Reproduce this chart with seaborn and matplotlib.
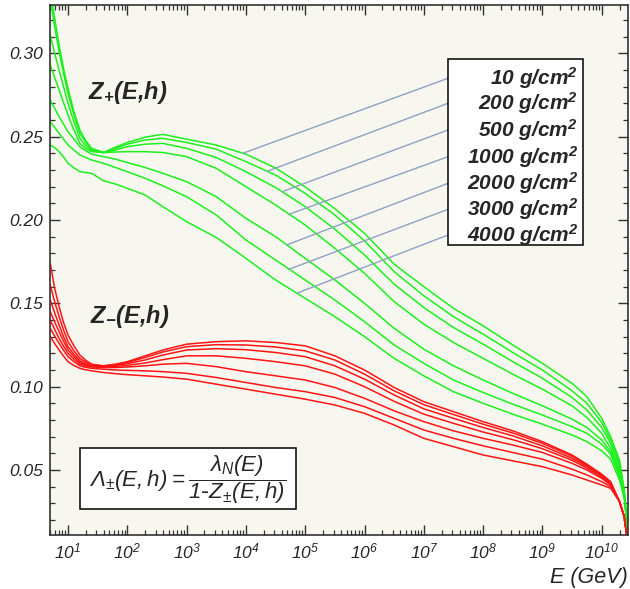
import numpy as np
import pandas as pd
import matplotlib
matplotlib.use("Agg")
import matplotlib.pyplot as plt
import matplotlib.ticker as mticker
from matplotlib.patches import Rectangle
import seaborn as sns

# ---------------- data ----------------
log_energy = [0.7, 0.775, 0.85, 0.925, 1.0, 1.1, 1.2, 1.3, 1.4, 1.6, 1.8, 2.0, 2.3, 2.6, 3.0, 3.5, 4.0, 4.5, 5.0,
              5.5, 6.0, 6.5, 7.0, 7.5, 8.0, 8.5, 9.0, 9.5, 9.75, 10.0, 10.15, 10.3, 10.38, 10.44]

depths = [10, 200, 500, 1000, 2000, 3000, 4000]

zp_10 = [0.340, 0.321, 0.305, 0.291, 0.279, 0.265, 0.254, 0.2475, 0.243, 0.2405, 0.2437, 0.2465, 0.2497, 0.2514, 0.2485, 0.2450, 0.2395, 0.2312, 0.2198,
         0.2068, 0.1920, 0.1735, 0.1600, 0.1470, 0.1365, 0.1250, 0.1140, 0.1020, 0.0940, 0.0810, 0.0700, 0.0560, 0.0380, 0.0130]
zp_200 = [0.333, 0.316, 0.301, 0.288, 0.276, 0.263, 0.252, 0.2465, 0.242, 0.2405, 0.2430, 0.2455, 0.2480, 0.2490, 0.2465, 0.2425, 0.2350, 0.2270, 0.2160,
          0.2030, 0.1875, 0.1690, 0.1545, 0.1420, 0.1315, 0.1205, 0.1100, 0.0975, 0.0900, 0.0785, 0.0680, 0.0540, 0.0370, 0.0130]
zp_500 = [0.311, 0.300, 0.290, 0.280, 0.270, 0.259, 0.249, 0.2445, 0.2415, 0.2405, 0.2420, 0.2440, 0.2455, 0.2460, 0.2430, 0.2375, 0.2290, 0.2195, 0.2080,
          0.1945, 0.1790, 0.1615, 0.1475, 0.1355, 0.1255, 0.1150, 0.1050, 0.0935, 0.0860, 0.0755, 0.0660, 0.0520, 0.0360, 0.0130]
zp_1000 = [0.293, 0.2855, 0.278, 0.2705, 0.263, 0.254, 0.246, 0.2428, 0.2410, 0.2405, 0.2408, 0.2410, 0.2410, 0.2405, 0.2380, 0.2310, 0.2200, 0.2090, 0.1970,
           0.1830, 0.1680, 0.1510, 0.1375, 0.1265, 0.1170, 0.1075, 0.0985, 0.0885, 0.0815, 0.0720, 0.0630, 0.0500, 0.0350, 0.0130]
zp_2000 = [0.272, 0.267, 0.262, 0.2575, 0.253, 0.2485, 0.244, 0.2415, 0.2395, 0.2380, 0.2365, 0.2345, 0.2315, 0.2280, 0.2230, 0.2140, 0.2010, 0.1900, 0.1770,
           0.1640, 0.1500, 0.1350, 0.1225, 0.1125, 0.1040, 0.0960, 0.0885, 0.0805, 0.0755, 0.0680, 0.0610, 0.0480, 0.0345, 0.0130]
zp_3000 = [0.259, 0.2555, 0.252, 0.2485, 0.245, 0.242, 0.239, 0.2375, 0.2360, 0.2340, 0.2315, 0.2290, 0.2250, 0.2205, 0.2140, 0.2030, 0.1880, 0.1760, 0.1640,
           0.1520, 0.1390, 0.1250, 0.1140, 0.1040, 0.0965, 0.0895, 0.0830, 0.0760, 0.0720, 0.0655, 0.0595, 0.0460, 0.0340, 0.0130]
zp_4000 = [0.245, 0.2435, 0.241, 0.2378, 0.234, 0.2313, 0.229, 0.2285, 0.2280, 0.2235, 0.2216, 0.2190, 0.2150, 0.2080, 0.1990, 0.1895, 0.1770, 0.1640, 0.1530,
           0.1420, 0.1300, 0.1170, 0.1065, 0.0970, 0.0900, 0.0835, 0.0775, 0.0710, 0.0670, 0.0615, 0.0565, 0.0440, 0.0330, 0.0130]

zm_10 = [0.174, 0.159, 0.148, 0.1385, 0.131, 0.1245, 0.119, 0.1158, 0.1135, 0.1125, 0.1135, 0.1150, 0.1185, 0.1220, 0.1255, 0.1270, 0.1275, 0.1265, 0.1245,
         0.1185, 0.1100, 0.0995, 0.0910, 0.0850, 0.0790, 0.0735, 0.0670, 0.0590, 0.0535, 0.0475, 0.0430, 0.0310, 0.0220, 0.0060]
zm_200 = [0.161, 0.151, 0.142, 0.134, 0.127, 0.1215, 0.117, 0.1147, 0.1130, 0.1125, 0.1132, 0.1145, 0.1175, 0.1208, 0.1240, 0.1252, 0.1250, 0.1238, 0.1215,
          0.1160, 0.1075, 0.0975, 0.0892, 0.0833, 0.0775, 0.0722, 0.0660, 0.0582, 0.0530, 0.0470, 0.0425, 0.0310, 0.0220, 0.0060]
zm_500 = [0.152, 0.1443, 0.137, 0.130, 0.124, 0.1195, 0.1155, 0.1138, 0.1125, 0.1122, 0.1128, 0.1138, 0.1160, 0.1190, 0.1220, 0.1228, 0.1222, 0.1205, 0.1180,
          0.1125, 0.1045, 0.0950, 0.0867, 0.0810, 0.0755, 0.0705, 0.0645, 0.0570, 0.0522, 0.0465, 0.0420, 0.0310, 0.0220, 0.0060]
zm_1000 = [0.145, 0.1388, 0.133, 0.1273, 0.122, 0.118, 0.1145, 0.1131, 0.1122, 0.1120, 0.1122, 0.1128, 0.1142, 0.1162, 0.1185, 0.1185, 0.1170, 0.1150, 0.1125,
           0.1075, 0.1000, 0.0912, 0.0835, 0.0780, 0.0728, 0.0682, 0.0628, 0.0558, 0.0512, 0.0458, 0.0415, 0.0310, 0.0220, 0.0060]
zm_2000 = [0.140, 0.1343, 0.129, 0.1243, 0.120, 0.1165, 0.1135, 0.1125, 0.1118, 0.1115, 0.1115, 0.1118, 0.1125, 0.1135, 0.1140, 0.1120, 0.1090, 0.1065, 0.1040,
           0.0995, 0.0930, 0.0855, 0.0790, 0.0735, 0.0690, 0.0650, 0.0605, 0.0540, 0.0500, 0.0450, 0.0410, 0.0310, 0.0220, 0.0060]
zm_3000 = [0.135, 0.1304, 0.126, 0.1218, 0.118, 0.115, 0.1125, 0.1116, 0.1110, 0.1105, 0.1100, 0.1098, 0.1095, 0.1090, 0.1080, 0.1055, 0.1025, 0.0995, 0.0970,
           0.0935, 0.0880, 0.0810, 0.0740, 0.0690, 0.0645, 0.0605, 0.0565, 0.0505, 0.0470, 0.0430, 0.0400, 0.0310, 0.0220, 0.0060]
zm_4000 = [0.130, 0.1259, 0.122, 0.1183, 0.115, 0.1127, 0.1110, 0.1101, 0.1095, 0.1085, 0.1078, 0.1072, 0.1065, 0.1058, 0.1045, 0.1015, 0.0985, 0.0955, 0.0925,
           0.0890, 0.0840, 0.0770, 0.0690, 0.0640, 0.0590, 0.0555, 0.0520, 0.0470, 0.0440, 0.0410, 0.0390, 0.0310, 0.0220, 0.0060]

zplus_curves = [zp_10, zp_200, zp_500, zp_1000, zp_2000, zp_3000, zp_4000]
zminus_curves = [zm_10, zm_200, zm_500, zm_1000, zm_2000, zm_3000, zm_4000]

xtick_exponents = [1, 2, 3, 4, 5, 6, 7, 8, 9, 10]
yticks = [0.05, 0.10, 0.15, 0.20, 0.25, 0.30]
depth_labels = [f"{d} g/cm$^{{2}}$" for d in depths]

# ---------------- long-form table ----------------
rows = []
for d, zp, zm in zip(depths, zplus_curves, zminus_curves):
    for L, v in zip(log_energy, zp):
        rows.append({"E": 10 ** L, "Z": v, "curve": f"plus_{d}"})
    for L, v in zip(log_energy, zm):
        rows.append({"E": 10 ** L, "Z": v, "curve": f"minus_{d}"})
df = pd.DataFrame(rows)

GREEN = "#1cf01c"
RED = "#ff1414"
palette = {}
for d in depths:
    palette[f"plus_{d}"] = GREEN
    palette[f"minus_{d}"] = RED

# ---------------- style ----------------
sns.set_theme(style="ticks")
plt.rcParams["font.family"] = ["Liberation Sans", "DejaVu Sans"]
plt.rcParams["mathtext.default"] = "regular"

fig = plt.figure(figsize=(6.3, 5.89), dpi=100)
fig.patch.set_facecolor("white")
ax = fig.add_axes([50 / 630, 54 / 589, 578 / 630, 530 / 589])
ax.set_facecolor("#f7f7f0")

sns.lineplot(data=df, x="E", y="Z", hue="curve", palette=palette,
             estimator=None, sort=False, legend=False, lw=1.1, ax=ax)

ax.set_xscale("log")
ax.set_xlim(10 ** 0.6965, 10 ** 10.443)
ax.set_ylim(0.011, 0.329)

ax.set_xticks([10.0 ** e for e in xtick_exponents])
ax.set_xticklabels([f"10$^{{{e}}}$" for e in xtick_exponents])
ax.xaxis.set_minor_locator(mticker.LogLocator(base=10, subs=np.arange(2, 10), numticks=30))
ax.xaxis.set_minor_formatter(mticker.NullFormatter())
ax.set_yticks(yticks)
ax.set_yticklabels([f"{v:.2f}" for v in yticks])
ax.yaxis.set_minor_locator(mticker.MultipleLocator(0.01))

ax.tick_params(which="both", direction="in", top=True, right=True, color="#333333")
ax.tick_params(which="major", length=7, width=1.0, labelsize=12.5, pad=5)
ax.tick_params(which="minor", length=3.5, width=0.9)
for lab in ax.get_xticklabels() + ax.get_yticklabels():
    lab.set_fontstyle("italic")
for sp in ax.spines.values():
    sp.set_color("#333333")
    sp.set_linewidth(1.2)

ax.set_ylabel("")
ax.set_xlabel("E (GeV)", loc="right", fontsize=15.5, fontstyle="italic", labelpad=4)

# ---------------- annotations ----------------
ax.text(0.066, 0.834, "Z$_{+}$(E,h)", transform=ax.transAxes, fontsize=17,
        fontweight="bold", fontstyle="italic", ha="left", va="center")
ax.text(0.069, 0.413, "Z$_{-}$(E,h)", transform=ax.transAxes, fontsize=17,
        fontweight="bold", fontstyle="italic", ha="left", va="center")

# formula box
ax.add_patch(Rectangle((0.0519, 0.049), 0.3737, 0.115, transform=ax.transAxes,
                       facecolor="white", edgecolor="black", lw=1.1, zorder=5))
ax.text(0.239, 0.1055,
        r"$\Lambda_{\pm}(E,h) = \dfrac{\lambda_{N}(E)}{1\text{-}Z_{\pm}(E,h)}$",
        transform=ax.transAxes, fontsize=16, fontstyle="italic",
        ha="center", va="center", zorder=6)

# legend box with leader lines
box_x0, box_x1 = 0.6886, 0.9221
box_y0, box_y1 = 0.547, 0.898
ax.add_patch(Rectangle((box_x0, box_y0), box_x1 - box_x0, box_y1 - box_y0,
                       transform=ax.transAxes, facecolor="white",
                       edgecolor="black", lw=1.1, zorder=5))
label_y = [0.8617, 0.8145, 0.7642, 0.7138, 0.6635, 0.6145, 0.5660]
leader_logE = [3.95, 4.36, 4.61, 4.73, 4.69, 4.73, 4.86]
for curve, ly, lL, lab in zip(zplus_curves, label_y, leader_logE, depth_labels):
    zval = float(np.interp(lL, log_energy, curve))
    ax.annotate("", xy=(10 ** lL, zval), xycoords="data",
                xytext=(box_x0, ly), textcoords="axes fraction",
                arrowprops=dict(arrowstyle="-", color="#8ea2c2", lw=1.0,
                                shrinkA=0, shrinkB=0), zorder=4)
    ax.text(0.9135, ly, lab, transform=ax.transAxes, fontsize=15,
            fontweight="bold", fontstyle="italic", ha="right", va="center", zorder=6)

fig.savefig("out.png", dpi=100)
